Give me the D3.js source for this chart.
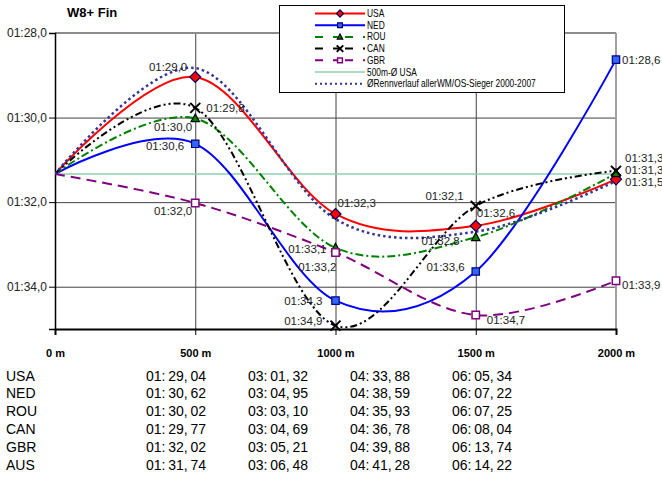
<!DOCTYPE html>
<html>
<head>
<meta charset="utf-8">
<script src="https://cdn.jsdelivr.net/npm/d3@7"></script>
<style>
  html, body { margin: 0; padding: 0; background: #fff; }
  svg { display: block; font-family: "Liberation Sans", Arial, sans-serif; }
</style>
</head>
<body>
<svg id="chart" width="662" height="479"></svg>
<script>
// ---------- DATA ----------
const title = "W8+ Fin";
const distances = [0, 500, 1000, 1500, 2000];
const distanceLabels = ["0 m", "500 m", "1000 m", "1500 m", "2000 m"];
const yTickValues = [28, 30, 32, 34];           // seconds past 01:00
const usaAvg500 = 31.335;                        // 500m-Ø USA

// 500 m split times (seconds past 01:00)
const usaSplits = [31.335, 29.04, 32.28, 32.56, 31.46];
const nedSplits = [31.335, 30.62, 34.33, 33.64, 28.63];
const rouSplits = [31.335, 30.02, 33.08, 32.83, 31.32];
const canSplits = [31.335, 29.77, 34.92, 32.09, 31.26];
const gbrSplits = [31.335, 32.02, 33.19, 34.67, 33.86];
const winnersAvg = [31.335, 28.83, 32.40, 32.70, 31.50];

const tableTeams = ["USA", "NED", "ROU", "CAN", "GBR", "AUS"];
const tableTimes = [
  ["01:29,04", "03:01,32", "04:33,88", "06:05,34"],
  ["01:30,62", "03:04,95", "04:38,59", "06:07,22"],
  ["01:30,02", "03:03,10", "04:35,93", "06:07,25"],
  ["01:29,77", "03:04,69", "04:36,78", "06:08,04"],
  ["01:32,02", "03:05,21", "04:39,88", "06:13,74"],
  ["01:31,74", "03:06,48", "04:41,28", "06:14,22"]
];

// ---------- STYLE / LAYOUT ----------
const svg = d3.select("#chart");
const plot = { left: 55, right: 616, top: 33, bottom: 329 };
const x = d3.scaleLinear().domain([0, 2000]).range([plot.left, plot.right]);
const y = d3.scaleLinear().domain([28, 35]).range([plot.top, plot.bottom]);

const fmtSec = v => "01:" + d3.format("04.1f")(v).replace(".", ",");

// label placement offsets per point index (1..4): [dx, dyCenter, anchor]
const series = [
  { name: "USA", values: usaSplits, color: "#FF0000", width: 2, dash: null, marker: "diamond",
    fill: "#FF0000", mstroke: "#00005a",
    labels: [null, [-8, -10, "end"], [2, -11, "start"], [1, -13, "start"], [9, 3, "start"]] },
  { name: "NED", values: nedSplits, color: "#0000FF", width: 2, dash: null, marker: "square",
    fill: "#3366FF", mstroke: "#000080",
    labels: [null, [-11, 2, "end"], [-13, 0, "end"], [-11, -4, "end"], [6, 0, "start"]] },
  { name: "ROU", values: rouSplits, color: "#008000", width: 2, dash: "8,3,2,3", marker: "triangle",
    fill: "#008000", mstroke: "#000000",
    labels: [null, [-3, 9, "end"], [-9, 1, "end"], [-16, 4, "end"], [9, -3, "start"]] },
  { name: "CAN", values: canSplits, color: "#000000", width: 2, dash: "7,3,2,3,2,3", marker: "x",
    fill: "none", mstroke: "#000000",
    labels: [null, [11, 0, "start"], [-13, -5, "end"], [-12, -10, "end"], [9, -13, "start"]] },
  { name: "GBR", values: gbrSplits, color: "#800080", width: 2, dash: "10,6", marker: "opensquare",
    fill: "#ffffff", mstroke: "#800080",
    labels: [null, [-3, 8, "end"], [1, 15, "end"], [11, 5, "start"], [6, 4, "start"]] }
];

function markerPath(type, s) {
  switch (type) {
    case "diamond": return `M0,${-5.5*s}L${5.5*s},0L0,${5.5*s}L${-5.5*s},0Z`;
    case "square":
    case "opensquare": return `M${-3.7*s},${-3.7*s}h${7.4*s}v${7.4*s}h${-7.4*s}Z`;
    case "triangle": return `M0,${-4.5*s}L${4.2*s},${3.3*s}L${-4.2*s},${3.3*s}Z`;
    case "x": return `M${-5*s},${-5*s}L${5*s},${5*s}M${-5*s},${5*s}L${5*s},${-5*s}`;
  }
}
function drawMarker(g, type, cx, cy, s, d) {
  const p = g.append("path")
    .attr("d", markerPath(type, s))
    .attr("transform", `translate(${cx},${cy})`);
  if (type === "x") {
    p.attr("fill", "none").attr("stroke", d.mstroke).attr("stroke-width", 2);
  } else {
    p.attr("fill", d.fill).attr("stroke", d.mstroke).attr("stroke-width", type === "opensquare" ? 1.5 : 1.2);
  }
}

// Title
svg.append("text").attr("x", 67).attr("y", 17)
  .attr("font-size", 13).attr("font-weight", "bold").attr("fill", "#000").text(title);

// Gridlines (horizontal)
svg.append("g")
  .attr("transform", `translate(${plot.left},0)`)
  .call(d3.axisLeft(y).tickValues(yTickValues.slice(1)).tickSize(-(plot.right - plot.left)).tickFormat(""))
  .call(g => g.select(".domain").remove())
  .call(g => g.selectAll("line").attr("stroke", "#404040").attr("stroke-width", 1));

// Gridlines (vertical)
svg.append("g")
  .attr("transform", `translate(0,${plot.bottom})`)
  .call(d3.axisBottom(x).tickValues([500, 1000, 1500]).tickSize(-(plot.bottom - plot.top)).tickFormat(""))
  .call(g => g.select(".domain").remove())
  .call(g => g.selectAll("line").attr("stroke", "#404040").attr("stroke-width", 1));

// plot frame top & right (gray)
svg.append("line").attr("x1", plot.left).attr("x2", plot.right).attr("y1", y(28)).attr("y2", y(28))
  .attr("stroke", "#8c8c8c").attr("stroke-width", 2);
svg.append("line").attr("x1", x(2000)).attr("x2", x(2000)).attr("y1", plot.top).attr("y2", plot.bottom)
  .attr("stroke", "#a0a0a0").attr("stroke-width", 2);

// Y axis
svg.append("g")
  .attr("transform", `translate(${plot.left},0)`)
  .call(d3.axisLeft(y).tickValues(yTickValues).tickSize(6).tickPadding(2).tickFormat(fmtSec))
  .call(g => g.select(".domain").attr("stroke", "#000").attr("stroke-width", 1.5))
  .call(g => g.selectAll("line").attr("stroke", "#000"))
  .call(g => g.selectAll("text").attr("font-size", 12).attr("fill", "#222")
      .attr("font-family", "'Liberation Sans', Arial, sans-serif"));

// X axis
svg.append("g")
  .attr("transform", `translate(0,${plot.bottom})`)
  .call(d3.axisBottom(x).tickValues(distances).tickSize(6).tickPadding(14)
      .tickFormat((d, i) => distanceLabels[i]))
  .call(g => g.select(".domain").attr("stroke", "#000").attr("stroke-width", 2))
  .call(g => g.selectAll("line").attr("stroke", "#000"))
  .call(g => g.selectAll("text").attr("font-size", 11).attr("font-weight", "bold").attr("fill", "#000")
      .attr("font-family", "'Liberation Sans', Arial, sans-serif"));

// clip
svg.append("clipPath").attr("id", "plotclip").append("rect")
  .attr("x", plot.left).attr("y", plot.top).attr("width", plot.right - plot.left + 1).attr("height", plot.bottom - plot.top);

const lines = svg.append("g").attr("clip-path", "url(#plotclip)");
const lineGen = d3.line().x((d, i) => x(distances[i])).y(d => y(d)).curve(d3.curveCardinal.tension(0));

// 500m-Ø USA reference line
lines.append("line")
  .attr("x1", x(0)).attr("x2", x(2000)).attr("y1", y(usaAvg500)).attr("y2", y(usaAvg500))
  .attr("stroke", "#8fcfac").attr("stroke-width", 1.5);

series.forEach(s => {
  lines.append("path").datum(s.values)
    .attr("d", lineGen).attr("fill", "none")
    .attr("stroke", s.color).attr("stroke-width", s.width)
    .attr("stroke-dasharray", s.dash);
});

// winners' average
lines.append("path").datum(winnersAvg)
  .attr("d", lineGen).attr("fill", "none")
  .attr("stroke", "#333399").attr("stroke-width", 2.5).attr("stroke-dasharray", "2.5,3");

// markers
const mk = svg.append("g");
series.forEach(s => {
  s.values.forEach((v, i) => {
    if (i === 0) return;
    drawMarker(mk, s.marker, x(distances[i]), y(v), 1, s);
  });
});

// data labels
const lbl = svg.append("g").attr("font-size", 11.5).attr("fill", "#222");
series.forEach(s => {
  s.values.forEach((v, i) => {
    const o = s.labels[i];
    if (!o) return;
    lbl.append("text")
      .attr("x", x(distances[i]) + o[0])
      .attr("y", y(v) + o[1] + 4)
      .attr("text-anchor", o[2])
      .text(fmtSec(v));
  });
});

// Legend
const legend = svg.append("g");
legend.append("rect").attr("x", 279.5).attr("y", 5.5).attr("width", 285).attr("height", 87)
  .attr("fill", "#fff").attr("stroke", "#000").attr("stroke-width", 1);
const legendItems = [
  ...series.map(s => ({ label: s.name, s })),
  { label: "500m-Ø USA", ref: true },
  { label: "ØRennverlauf allerWM/OS-Sieger 2000-2007", avg: true }
];
legendItems.forEach((it, i) => {
  const cy = 13.5 + i * 11.7;
  if (it.s) {
    legend.append("line").attr("x1", 315).attr("x2", 365).attr("y1", cy).attr("y2", cy)
      .attr("stroke", it.s.color).attr("stroke-width", 2)
      .attr("stroke-dasharray", it.s.dash ? "8,10,6,6" : null);
    drawMarker(legend, it.s.marker, 340, cy, 0.65, it.s);
  } else if (it.ref) {
    legend.append("line").attr("x1", 315).attr("x2", 365).attr("y1", cy).attr("y2", cy)
      .attr("stroke", "#8fcfac").attr("stroke-width", 1.5);
  } else {
    legend.append("line").attr("x1", 315).attr("x2", 365).attr("y1", cy).attr("y2", cy)
      .attr("stroke", "#333399").attr("stroke-width", 2).attr("stroke-dasharray", "2,3");
  }
  legend.append("text")
    .attr("transform", `translate(367,${cy + 3.5}) scale(0.84,1)`)
    .attr("font-size", 10)
    .attr("fill", "#000").text(it.label);
});

// Table
const table = svg.append("g").attr("font-size", 14).attr("fill", "#000");
const colX = [146, 248, 350, 452];
tableTeams.forEach((t, r) => {
  const by = 380.5 + r * 17.9;
  table.append("text").attr("x", 6).attr("y", by).text(t);
  tableTimes[r].forEach((tm, c) => {
    table.append("text").attr("x", colX[c]).attr("y", by)
      .text(tm.replace(":", ":\u2009").replace(",", ",\u2009"));
  });
});
</script>
</body>
</html>
